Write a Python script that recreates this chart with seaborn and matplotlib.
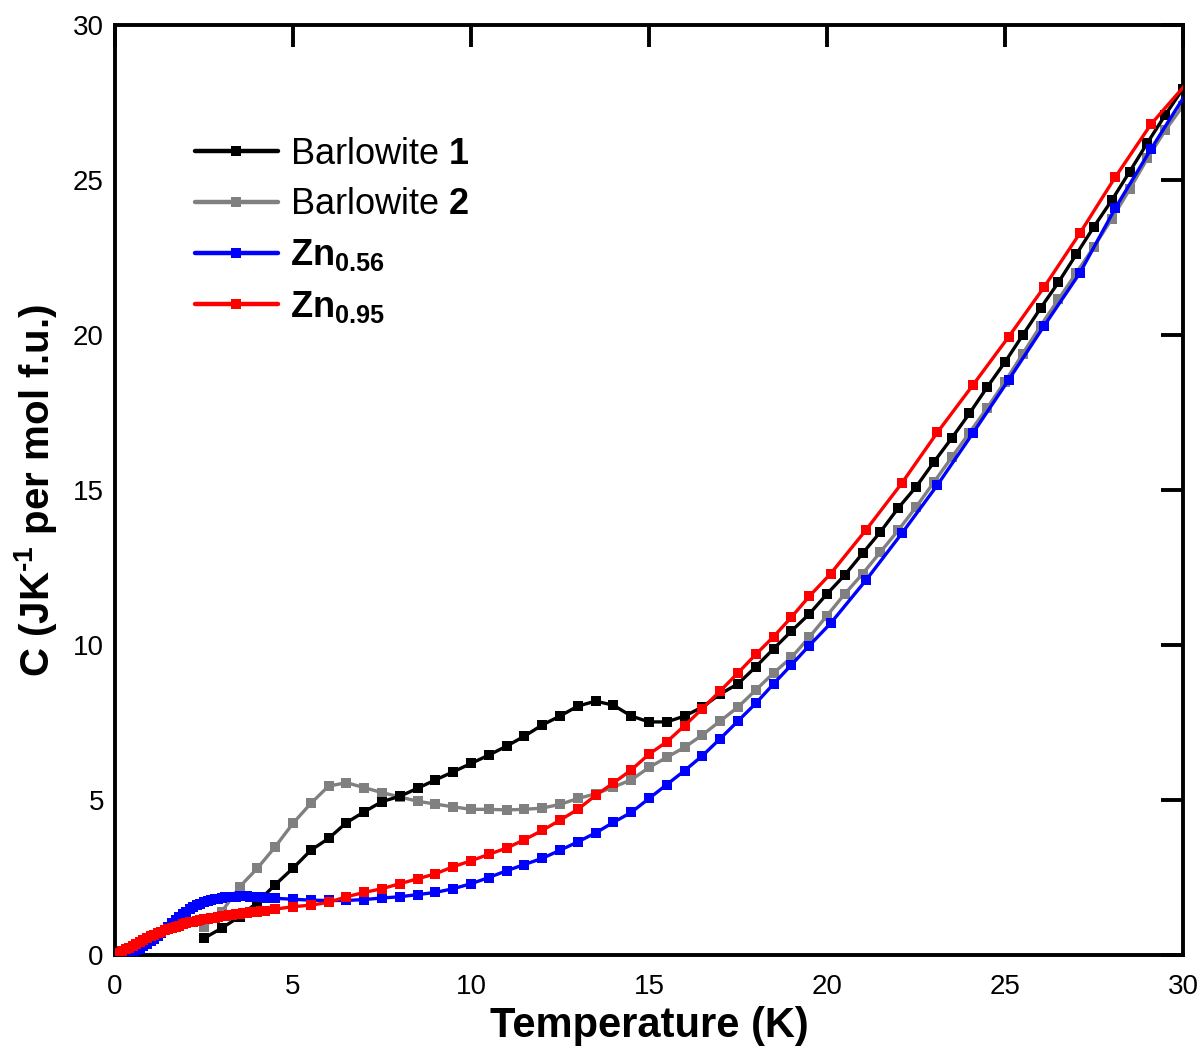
import numpy as np
import pandas as pd
import matplotlib
matplotlib.use("Agg")
import matplotlib.pyplot as plt
import seaborn as sns

# ---- heat capacity data: temperature (K) and C (J K^-1 per mol f.u.) ----
T_b1 = [2.5, 3.0, 3.5, 4.0, 4.5, 5.0, 5.5, 6.0, 6.5, 7.0, 7.5, 8.0, 8.5, 9.0, 9.5,
        10.0, 10.5, 11.0, 11.5, 12.0, 12.5, 13.0, 13.5, 14.0, 14.5, 15.0, 15.5,
        16.0, 16.5, 17.0, 17.5, 18.0, 18.5, 19.0, 19.5, 20.0, 20.5, 21.0, 21.5,
        22.0, 22.5, 23.0, 23.5, 24.0, 24.5, 25.0, 25.5, 26.0, 26.5, 27.0, 27.5,
        28.0, 28.5, 29.0, 29.5, 30.0]
C_b1 = [0.54, 0.87, 1.24, 1.7, 2.27, 2.8, 3.38, 3.76, 4.27, 4.62, 4.95, 5.12, 5.38,
        5.65, 5.91, 6.18, 6.45, 6.74, 7.06, 7.42, 7.71, 8.03, 8.19, 8.06, 7.71,
        7.52, 7.52, 7.71, 8.0, 8.42, 8.75, 9.3, 9.88, 10.45, 11.0, 11.65, 12.26,
        12.96, 13.65, 14.42, 15.1, 15.9, 16.67, 17.47, 18.32, 19.13, 20.0, 20.87,
        21.7, 22.6, 23.5, 24.35, 25.27, 26.2, 27.1, 27.95]

T_b2 = [2.5, 3.0, 3.5, 4.0, 4.5, 5.0, 5.5, 6.0, 6.5, 7.0, 7.5, 8.0, 8.5, 9.0, 9.5,
        10.0, 10.5, 11.0, 11.5, 12.0, 12.5, 13.0, 13.5, 14.0, 14.5, 15.0, 15.5,
        16.0, 16.5, 17.0, 17.5, 18.0, 18.5, 19.0, 19.5, 20.0, 20.5, 21.0, 21.5,
        22.0, 22.5, 23.0, 23.5, 24.0, 24.5, 25.0, 25.5, 26.0, 26.5, 27.0, 27.5,
        28.0, 28.5, 29.0, 29.5, 30.0]
C_b2 = [0.91, 1.4, 2.2, 2.8, 3.49, 4.25, 4.89, 5.45, 5.56, 5.4, 5.24, 5.1, 4.96,
        4.87, 4.78, 4.7, 4.7, 4.68, 4.7, 4.74, 4.86, 5.05, 5.2, 5.42, 5.65, 6.05,
        6.38, 6.7, 7.1, 7.55, 8.0, 8.55, 9.1, 9.6, 10.25, 10.95, 11.65, 12.3,
        13.0, 13.7, 14.45, 15.25, 16.05, 16.85, 17.65, 18.5, 19.4, 20.3, 21.15,
        22.0, 22.85, 23.75, 24.7, 25.7, 26.6, 27.4]

T_zn56 = [0.0, 0.1, 0.2, 0.3, 0.4, 0.5, 0.6, 0.7, 0.8, 0.9, 1.0, 1.1, 1.2, 1.3,
          1.4, 1.5, 1.6, 1.7, 1.8, 1.9, 2.0, 2.1, 2.2, 2.3, 2.4, 2.5, 2.6, 2.7,
          2.8, 2.9, 3.0, 3.1, 3.2, 3.3, 3.4, 3.5, 3.6, 3.7, 3.8, 3.9, 4.0, 4.1,
          4.2, 4.5, 5.0, 5.5, 6.0, 6.5, 7.0, 7.5, 8.0, 8.5, 9.0, 9.5, 10.0, 10.5,
          11.0, 11.5, 12.0, 12.5, 13.0, 13.5, 14.0, 14.5, 15.0, 15.5, 16.0, 16.5,
          17.0, 17.5, 18.0, 18.5, 19.0, 19.5, 20.1, 21.1, 22.1, 23.1, 24.1, 25.1,
          26.1, 27.1, 28.1, 29.1, 30.2]
C_zn56 = [0.0, 0.0, 0.01, 0.03, 0.06, 0.1, 0.15, 0.21, 0.28, 0.36, 0.44, 0.53,
          0.62, 0.72, 0.82, 0.92, 1.02, 1.12, 1.22, 1.31, 1.4, 1.47, 1.54, 1.6,
          1.65, 1.7, 1.74, 1.77, 1.8, 1.82, 1.84, 1.86, 1.87, 1.88, 1.88, 1.89,
          1.89, 1.89, 1.88, 1.88, 1.87, 1.86, 1.85, 1.83, 1.8, 1.77, 1.76, 1.76,
          1.79, 1.84, 1.88, 1.95, 2.02, 2.14, 2.3, 2.5, 2.72, 2.92, 3.12, 3.38,
          3.65, 3.94, 4.28, 4.6, 5.05, 5.5, 5.95, 6.43, 6.98, 7.55, 8.12, 8.75,
          9.36, 9.98, 10.7, 12.1, 13.6, 15.16, 16.84, 18.55, 20.3, 22.0, 24.1,
          26.0, 28.0]

T_zn95 = [0.0, 0.1, 0.2, 0.3, 0.4, 0.5, 0.6, 0.7, 0.8, 0.9, 1.0, 1.1, 1.2, 1.3,
          1.4, 1.5, 1.6, 1.7, 1.8, 1.9, 2.0, 2.1, 2.2, 2.3, 2.4, 2.5, 2.6, 2.7,
          2.8, 2.9, 3.0, 3.1, 3.2, 3.3, 3.4, 3.5, 3.6, 3.7, 3.8, 3.9, 4.0, 4.1,
          4.2, 4.5, 5.0, 5.5, 6.0, 6.5, 7.0, 7.5, 8.0, 8.5, 9.0, 9.5, 10.0, 10.5,
          11.0, 11.5, 12.0, 12.5, 13.0, 13.5, 14.0, 14.5, 15.0, 15.5, 16.0, 16.5,
          17.0, 17.5, 18.0, 18.5, 19.0, 19.5, 20.1, 21.1, 22.1, 23.1, 24.1, 25.1,
          26.1, 27.1, 28.1, 29.1, 30.2]
C_zn95 = [0.04, 0.08, 0.13, 0.18, 0.24, 0.3, 0.36, 0.42, 0.48, 0.54, 0.6, 0.65,
          0.7, 0.75, 0.8, 0.85, 0.88, 0.92, 0.95, 0.99, 1.02, 1.05, 1.08, 1.1,
          1.13, 1.15, 1.17, 1.19, 1.21, 1.23, 1.25, 1.27, 1.28, 1.3, 1.32, 1.33,
          1.35, 1.36, 1.38, 1.39, 1.4, 1.42, 1.43, 1.48, 1.56, 1.61, 1.7, 1.88,
          2.02, 2.14, 2.3, 2.46, 2.62, 2.85, 3.04, 3.25, 3.45, 3.72, 4.02, 4.35,
          4.7, 5.15, 5.55, 5.97, 6.48, 6.88, 7.4, 7.95, 8.52, 9.1, 9.7, 10.27,
          10.9, 11.57, 12.3, 13.72, 15.22, 16.86, 18.39, 19.94, 21.55, 23.28,
          25.1, 26.8, 28.25]

labels = ["Barlowite $1$", "Barlowite $2$", "$Zn_{0.56}$", "$Zn_{0.95}$"]
colors = ["#000000", "#808080", "#0000FF", "#FF0000"]
zorders = [3, 2, 4, 5]

sns.set_style("white")
plt.rcParams["font.family"] = ["Liberation Sans", "DejaVu Sans"]
plt.rcParams["mathtext.fontset"] = "custom"
plt.rcParams["mathtext.rm"] = "Liberation Sans:bold"
plt.rcParams["mathtext.it"] = "Liberation Sans:bold"
plt.rcParams["mathtext.bf"] = "Liberation Sans:bold"
plt.rcParams["mathtext.default"] = "bf"
plt.rcParams["text.color"] = "black"
plt.rcParams["axes.labelcolor"] = "black"
plt.rcParams["xtick.color"] = "black"
plt.rcParams["ytick.color"] = "black"

fig = plt.figure(figsize=(12.04, 10.51), dpi=100)
ax = fig.add_axes([0.0955, 0.0913, 0.8871, 0.8849])

series = [(T_b1, C_b1), (T_b2, C_b2), (T_zn56, C_zn56), (T_zn95, C_zn95)]
for (t, c), lab, col, z in zip(series, labels, colors, zorders):
    df = pd.DataFrame({"T": t, "C": c})
    sns.lineplot(data=df, x="T", y="C", ax=ax, color=col, label=lab,
                 marker="s", markersize=7.5, markeredgewidth=0, linewidth=2.4,
                 sort=False, estimator=None, zorder=z)

ax.set_xlim(0, 30)
ax.set_ylim(0, 30)
ax.set_xticks([0, 5, 10, 15, 20, 25, 30])
ax.set_yticks([0, 5, 10, 15, 20, 25, 30])
ax.tick_params(axis="both", which="major", direction="in", length=16, width=2.8,
               labelsize=20, top=True, right=True, color="black",
               labelcolor="black")
ax.tick_params(axis="x", pad=14)
ax.tick_params(axis="y", pad=8)
for s in ax.spines.values():
    s.set_linewidth(2.8)
    s.set_color("black")

ax.set_xlabel("Temperature (K)", fontsize=30, fontweight="bold", labelpad=4)
ax.set_ylabel(r"C (JK$^{\text{-}1}$ per mol f.u.)", fontsize=29,
              fontweight="bold", labelpad=10)

leg = ax.legend(loc="upper left", bbox_to_anchor=(0.061, 0.895), frameon=False,
                fontsize=26, handlelength=2.3, handletextpad=0.35,
                labelspacing=0.42, borderaxespad=0)
for h in leg.get_lines():
    h.set_linewidth(3.2)
    h.set_markersize(7.5)

fig.savefig("out.png", dpi=100)
